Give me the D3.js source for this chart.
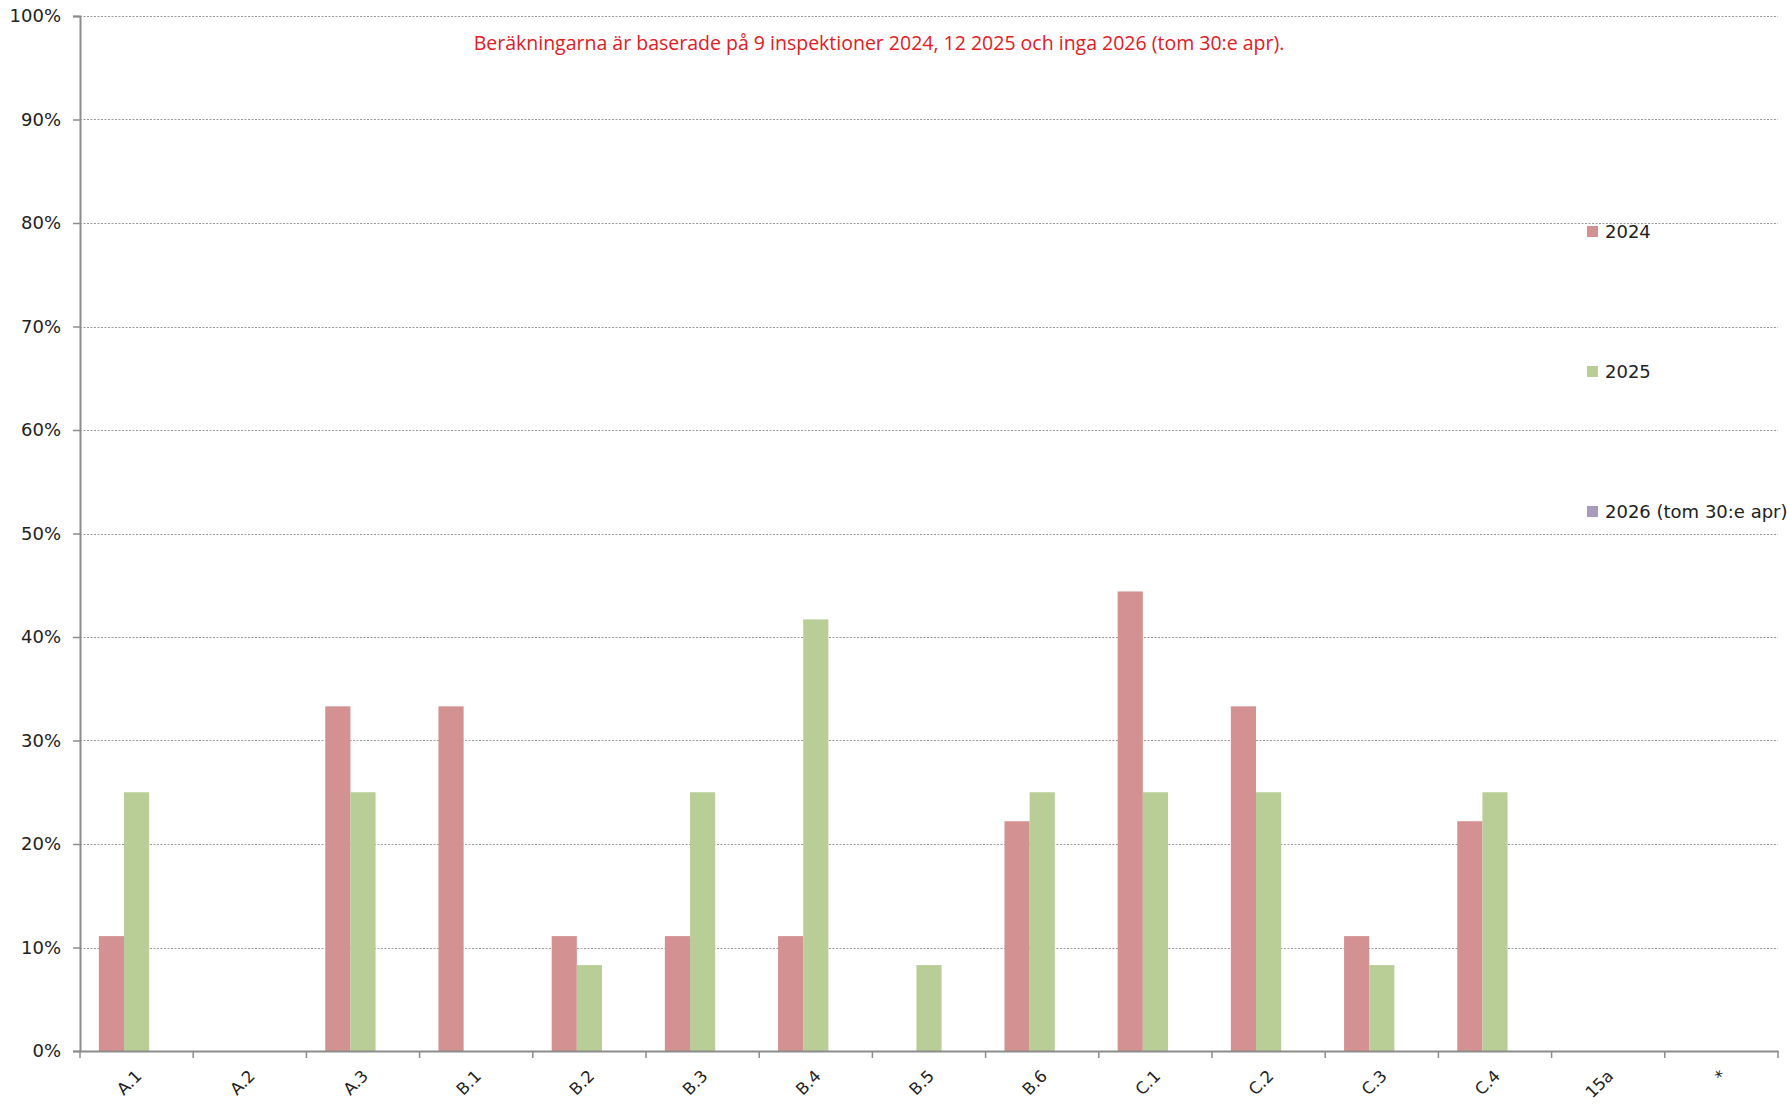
<!DOCTYPE html>
<html>
<head>
<meta charset="utf-8">
<script src="https://cdn.jsdelivr.net/npm/d3@7"></script>
<style>
  body { margin: 0; background: #fff; }
  svg { display: block; }
</style>
</head>
<body>
<div id="chart"></div>
<script>
// data
var categories = ["A.1", "A.2", "A.3", "B.1", "B.2", "B.3", "B.4", "B.5", "B.6", "C.1", "C.2", "C.3", "C.4", "15a", "*"];
var seriesNames = ["2024", "2025", "2026 (tom 30:e apr)"];
var values2024 = [0.111, 0, 0.333, 0.333, 0.111, 0.111, 0.111, 0, 0.222, 0.444, 0.333, 0.111, 0.222, 0, 0];
var values2025 = [0.25, 0, 0.25, 0, 0.083, 0.25, 0.417, 0.083, 0.25, 0.25, 0.25, 0.083, 0.25, 0, 0];
var values2026 = [0, 0, 0, 0, 0, 0, 0, 0, 0, 0, 0, 0, 0, 0, 0];
var yTicks = [0, 0.1, 0.2, 0.3, 0.4, 0.5, 0.6, 0.7, 0.8, 0.9, 1];
var colors = ["#d39191", "#b9cd96", "#a99bbd"];
var note = "Beräkningarna är baserade på 9 inspektioner 2024, 12 2025 och inga 2026 (tom 30:e apr).";

function render() {
    const width = 1788;
    const height = 1104;
    const left = 80, right = 1778, top = 16, bottom = 1051;

    const svg = d3.select("#chart")
        .append("svg")
        .attr("width", width)
        .attr("height", height);

    const x = d3.scaleBand()
        .domain(categories)
        .range([left, right]);

    const xInner = d3.scaleBand()
        .domain(seriesNames)
        .range([0, x.bandwidth()])
        .paddingInner(0)
        .paddingOuter(0.75);

    const y = d3.scaleLinear()
        .domain([0, 1])
        .range([bottom, top]);

    // gridlines
    svg.append("g")
        .selectAll("line")
        .data(yTicks.filter(d => d > 0))
        .enter()
        .append("line")
        .attr("x1", left)
        .attr("x2", right)
        .attr("y1", d => Math.round(y(d)) + 0.5)
        .attr("y2", d => Math.round(y(d)) + 0.5)
        .attr("stroke", "#9a9a9a")
        .attr("stroke-width", 1)
        .attr("stroke-dasharray", "2,1.5");

    // bars
    const series = [values2024, values2025, values2026];
    series.forEach((vals, i) => {
        svg.append("g")
            .selectAll("rect")
            .data(vals)
            .enter()
            .append("rect")
            .attr("x", (d, j) => x(categories[j]) + xInner(seriesNames[i]))
            .attr("y", d => y(d))
            .attr("width", xInner.bandwidth())
            .attr("height", d => y(0) - y(d))
            .attr("fill", colors[i]);
    });

    // y axis
    const leftAxis = d3.axisLeft(y)
        .tickValues(yTicks)
        .tickFormat(d3.format(".0%"))
        .tickSize(7)
        .tickPadding(12);

    const gy = svg.append("g")
        .attr("transform", `translate(${left}, 0)`)
        .call(leftAxis);
    gy.select(".domain").attr("stroke", "#8c8c8c").attr("stroke-width", 2);
    gy.selectAll(".tick line").attr("stroke", "#8c8c8c").attr("stroke-width", 1.5);
    gy.selectAll(".tick text")
        .style("font-family", "DejaVu Sans, Verdana, sans-serif")
        .style("font-size", "18px")
        .attr("fill", "#222");

    // x axis
    const bottomAxis = d3.axisBottom(x).tickSize(0).tickPadding(0);
    const gx = svg.append("g")
        .attr("transform", `translate(0, ${bottom})`)
        .call(bottomAxis);
    gx.select(".domain").attr("stroke", "#8c8c8c").attr("stroke-width", 2);
    gx.selectAll(".tick text")
        .style("font-family", "DejaVu Sans, Verdana, sans-serif")
        .style("font-size", "16.5px")
        .attr("fill", "#222")
        .attr("text-anchor", "end")
        .attr("transform", "translate(2, 22) rotate(-45)")
        .attr("dy", "0.35em");

    // category boundary ticks
    svg.append("g")
        .selectAll("line")
        .data(categories.map(c => x(c)).concat([right]))
        .enter()
        .append("line")
        .attr("x1", d => d)
        .attr("x2", d => d)
        .attr("y1", bottom)
        .attr("y2", bottom + 7)
        .attr("stroke", "#8c8c8c")
        .attr("stroke-width", 1.5);

    // legend
    const legendY = [232, 372, 512];
    const legend = svg.append("g");
    seriesNames.forEach((name, i) => {
        legend.append("rect")
            .attr("x", 1587)
            .attr("y", legendY[i] - 6)
            .attr("width", 11)
            .attr("height", 11)
            .attr("fill", colors[i]);
        legend.append("text")
            .attr("x", 1605)
            .attr("y", legendY[i])
            .attr("dy", "0.35em")
            .style("font-family", "DejaVu Sans, Verdana, sans-serif")
            .style("font-size", "18px")
            .attr("fill", "#222")
            .text(name);
    });

    // note
    svg.append("text")
        .attr("x", 879)
        .attr("y", 43)
        .attr("dy", "0.35em")
        .attr("text-anchor", "middle")
        .style("font-family", "Open Sans, sans-serif")
        .style("font-size", "19.5px")
        .attr("fill", "#e0201f")
        .text(note);
}

render();
</script>
</body>
</html>
